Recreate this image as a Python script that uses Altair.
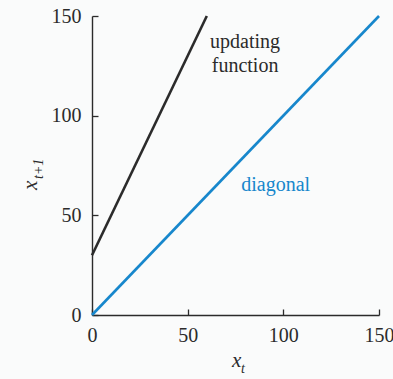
import altair as alt
import pandas as pd

# Updating function x_{t+1} = 2 x_t + 30 and the diagonal x_{t+1} = x_t
update_x = [0, 60]
update_y = [30, 150]
diag_x = [0, 150]
diag_y = [0, 150]
tick_values = [0, 50, 100, 150]

# In-plot labels (data coordinates)
label_text = ["updating", "function", "diagonal"]
label_x = [80, 80, 96]
label_y = [137, 125, 65]
label_color = ["#2b2b2b", "#2b2b2b", "#1787cc"]

FONT = "'Liberation Serif', 'DejaVu Serif', serif"
INK = "#2b2b2b"
BLUE = "#1787cc"

update_df = pd.DataFrame({"x": update_x, "y": update_y})
diag_df = pd.DataFrame({"x": diag_x, "y": diag_y})
label_df = pd.DataFrame({"x": label_x, "y": label_y, "text": label_text, "c": label_color})

xscale = alt.Scale(domain=[0, 150], nice=False)
yscale = alt.Scale(domain=[0, 150], nice=False)

# Labelled axes (no ticks) on the updating-function layer
update_line = alt.Chart(update_df).mark_line(color=INK, strokeWidth=2.6).encode(
    x=alt.X("x:Q", scale=xscale, title=None,
            axis=alt.Axis(values=tick_values, tickSize=0, labelPadding=10, labelFlush=False,
                          labelFont=FONT, labelFontSize=20, labelColor=INK,
                          domainColor=INK, domainWidth=1.4, grid=False)),
    y=alt.Y("y:Q", scale=yscale, title=None,
            axis=alt.Axis(values=tick_values, tickSize=0, labelPadding=11, labelFlush=False,
                          labelFont=FONT, labelFontSize=20, labelColor=INK,
                          domainColor=INK, domainWidth=1.4, grid=False)),
)

# Tick-only axes folded back onto the plot so ticks point inward
diag_line = alt.Chart(diag_df).mark_line(color=BLUE, strokeWidth=2.6).encode(
    x=alt.X("x:Q", scale=xscale, title=None,
            axis=alt.Axis(orient="top", offset=-299, values=tick_values, labels=False,
                          domain=False, tickSize=6, tickColor=INK, tickWidth=1.3, grid=False)),
    y=alt.Y("y:Q", scale=yscale, title=None,
            axis=alt.Axis(orient="right", offset=-287, values=tick_values, labels=False,
                          domain=False, tickSize=6, tickColor=INK, tickWidth=1.3, grid=False)),
)

labels = alt.Chart(label_df).mark_text(font=FONT, fontSize=20, align="center", baseline="middle").encode(
    x=alt.X("x:Q", scale=xscale, axis=None),
    y=alt.Y("y:Q", scale=yscale, axis=None),
    text="text:N",
    color=alt.Color("c:N", scale=None),
)

# Axis titles with subscripts
def title_text(t, x, y, size, angle=0):
    return alt.Chart(pd.DataFrame({"t": [t]})).mark_text(
        font=FONT, fontSize=size, fontStyle="italic", align="left",
        baseline="alphabetic", angle=angle, color=INK,
    ).encode(x=alt.value(x), y=alt.value(y), text="t:N")

x_title = title_text("x", 140, 351, 21) + title_text("t", 149, 357, 14)
y_title = title_text("x", -55, 174, 21, 270) + title_text("t+1", -49, 163, 14, 270)

chart = alt.layer(update_line, diag_line, labels, x_title, y_title).resolve_axis(
    x="independent", y="independent"
).properties(
    width=287, height=299,
    autosize=alt.AutoSizeParams(type="none"),
    padding={"left": 92, "top": 16, "right": 14, "bottom": 64},
    background="#fafbfb",
).configure_view(stroke=None)

chart.save("out.html", embed_options={"renderer": "svg", "actions": False})
